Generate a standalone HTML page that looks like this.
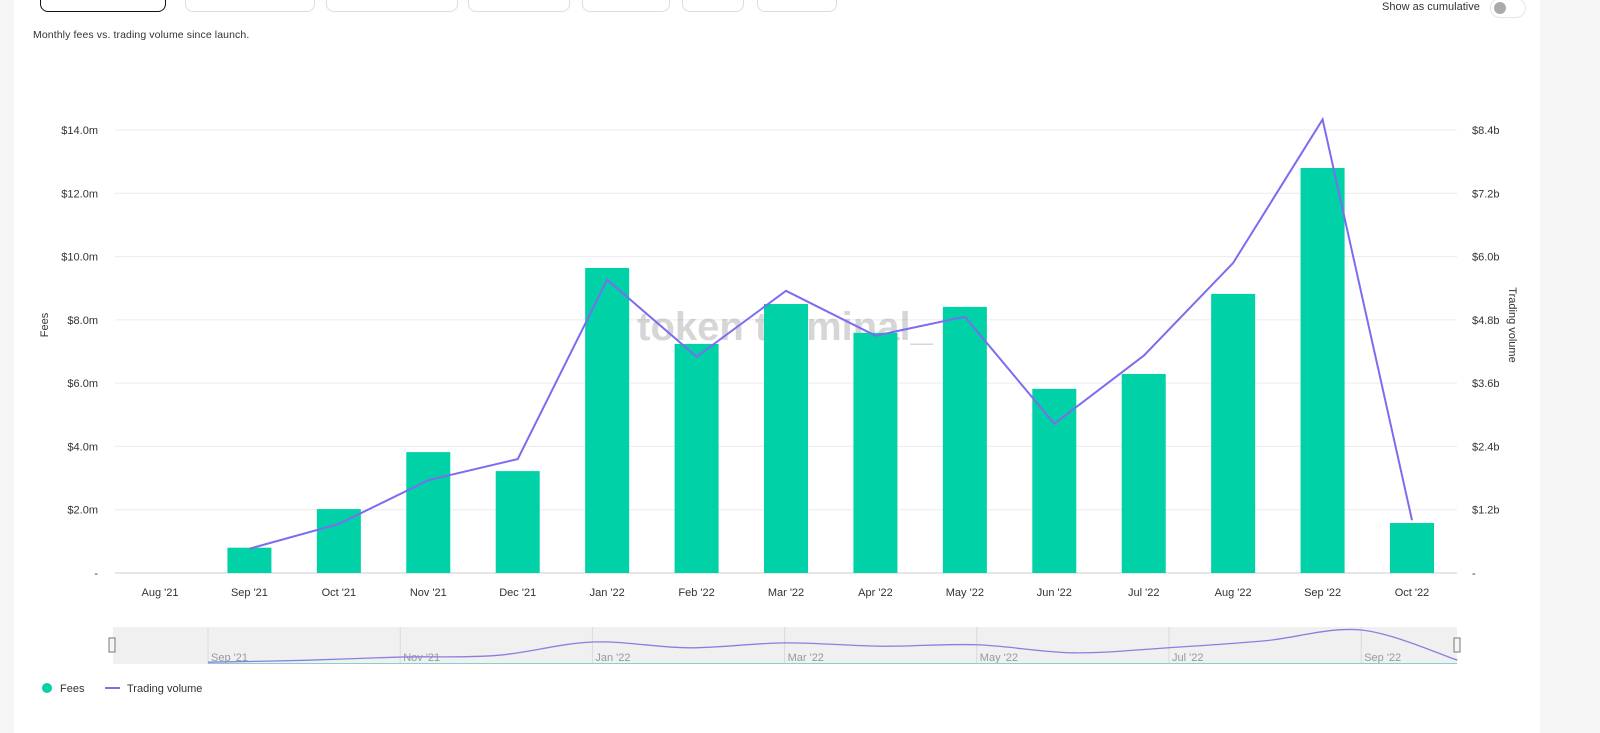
<!DOCTYPE html>
<html><head><meta charset="utf-8"><style>
body{margin:0;width:1600px;height:733px;background:#f5f5f5;font-family:"Liberation Sans",sans-serif;overflow:hidden;position:relative}
#panel{position:absolute;left:14px;top:0;width:1526px;height:733px;background:#fff}
.tab{position:absolute;top:-10px;height:20px;border:1px solid #ddd;border-radius:8px;background:#fff}
</style></head><body>
<div id="panel"></div>
<div class="tab" style="left:40px;width:124px;border:1.5px solid #111"></div>
<div class="tab" style="left:185px;width:128px"></div>
<div class="tab" style="left:326px;width:130px"></div>
<div class="tab" style="left:468px;width:100px"></div>
<div class="tab" style="left:582px;width:86px"></div>
<div class="tab" style="left:682px;width:60px"></div>
<div class="tab" style="left:757px;width:78px"></div>
<div style="position:absolute;left:33px;top:29px;font-size:10.5px;color:#333;letter-spacing:0.1px">Monthly fees vs. trading volume since launch.</div>
<div style="position:absolute;left:1382px;top:1px;font-size:11px;color:#333">Show as cumulative</div>
<div style="position:absolute;left:1490px;top:-2px;width:34px;height:18px;border:1px solid #e5e5e5;border-radius:10px;background:#fff"><div style="position:absolute;left:3px;top:3px;width:12px;height:12px;border-radius:50%;background:#aaa"></div></div>
<svg id="chart" width="1600" height="733" style="position:absolute;left:0;top:0"></svg>
<script>
const categories=["Aug '21","Sep '21","Oct '21","Nov '21","Dec '21","Jan '22","Feb '22","Mar '22","Apr '22","May '22","Jun '22","Jul '22","Aug '22","Sep '22","Oct '22"];
const fees=[0,0.8,2.02,3.82,3.22,9.64,7.24,8.5,7.59,8.41,5.82,6.29,8.82,12.8,1.58];
const volume=[null,0.46,0.93,1.76,2.16,5.56,4.10,5.35,4.50,4.86,2.83,4.12,5.88,8.6,1.0];
const leftTicks=[0,2,4,6,8,10,12,14];
const rightTicks=[0,1.2,2.4,3.6,4.8,6.0,7.2,8.4];
const navLabels=["Sep '21","Nov '21","Jan '22","Mar '22","May '22","Jul '22","Sep '22"];
const NS="http://www.w3.org/2000/svg",svg=document.getElementById('chart');
function el(t,a,p){const e=document.createElementNS(NS,t);for(const k in a)e.setAttribute(k,a[k]);(p||svg).appendChild(e);return e;}
const x0=160,step=89.43,yb=573,yt=130;
const xs=i=>x0+i*step, yL=v=>yb-(v/14)*(yb-yt), yR=v=>yb-(v/8.4)*(yb-yt);
leftTicks.forEach(t=>{
 const g=el('line',{x1:115,x2:1457,y1:yL(t),y2:yL(t),stroke:t?'#ececec':'#ccc'});
 
 const tx=el('text',{x:98,y:yL(t)+4,'text-anchor':'end','font-size':11,fill:'#333'});tx.textContent=t?'$'+t.toFixed(1)+'m':'-';
 
});
rightTicks.forEach(t=>{
 const tx=el('text',{x:1472,y:yR(t)+4,'font-size':11,fill:'#333'});tx.textContent=t?'$'+t.toFixed(1)+'b':'-';
 
});
const wm=el('text',{x:785,y:340,'text-anchor':'middle','font-size':40,'font-weight':'bold',fill:'#999','fill-opacity':0.4});wm.textContent='token terminal_';

categories.forEach((c,i)=>{
 const tx=el('text',{x:xs(i),y:596,'text-anchor':'middle','font-size':11,fill:'#333'});tx.textContent=c;
 
 if(fees[i]>0){const b=el('rect',{x:xs(i)-22,y:yL(fees[i]),width:44,height:yb-yL(fees[i]),fill:'#00d1a7'});
 }
});
let d='';volume.forEach((v,i)=>{if(v!==null)d+=(d?'L':'M')+xs(i)+','+yR(v);});
const ln=el('path',{d:d,fill:'none',stroke:'#7b6cf0','stroke-width':2});

let t=el('text',{x:48,y:325,'font-size':11,fill:'#333',transform:'rotate(-90 48 325)','text-anchor':'middle'});t.textContent='Fees';

t=el('text',{x:1509,y:325,'font-size':11,fill:'#333',transform:'rotate(90 1509 325)','text-anchor':'middle'});t.textContent='Trading volume';

// navigator
const nav=el('rect',{x:113,y:627,width:1344,height:37,fill:'#f0f0f0'});

const nx0=208,nstep=96.1,nb=664,nt=630;
navLabels.forEach((l,i)=>{const x=nx0+i*2*nstep;
 el('line',{x1:x,x2:x,y1:627,y2:664,stroke:'#dadada'});
 const tx=el('text',{x:x+3,y:661,'font-size':11,fill:'#999'});tx.textContent=l;
 });
const pts=[];volume.forEach((v,i)=>{if(v!==null)pts.push([nx0+(i-1)*nstep,nb-(v/8.6)*(nb-nt)]);});
let nd='M'+pts[0][0]+','+pts[0][1];
for(let i=0;i<pts.length-1;i++){const p0=pts[Math.max(0,i-1)],p1=pts[i],p2=pts[i+1],p3=pts[Math.min(pts.length-1,i+2)];
 const c1=[p1[0]+(p2[0]-p0[0])/6,p1[1]+(p2[1]-p0[1])/6],c2=[p2[0]-(p3[0]-p1[0])/6,p2[1]-(p3[1]-p1[1])/6];
 nd+='C'+c1+' '+c2+' '+p2;}
const nl=el('path',{d:nd,fill:'none',stroke:'#8a7fe0','stroke-width':1.3});

el('line',{x1:208,x2:1457,y1:663.5,y2:663.5,stroke:'#7fd4cc'});
[112,1457].forEach(x=>{const h=el('rect',{x:x-3,y:638,width:6,height:14,fill:'#f5f5f5',stroke:'#777'});
 });
// legend
let c=el('circle',{cx:47,cy:688,r:5,fill:'#00d1a7'});
t=el('text',{x:60,y:692,'font-size':11,fill:'#333'});t.textContent='Fees';
c=el('line',{x1:105,x2:120,y1:688,y2:688,stroke:'#7b6cf0','stroke-width':2});
t=el('text',{x:127,y:692,'font-size':11,fill:'#333'});t.textContent='Trading volume';
</script>
</body></html>
